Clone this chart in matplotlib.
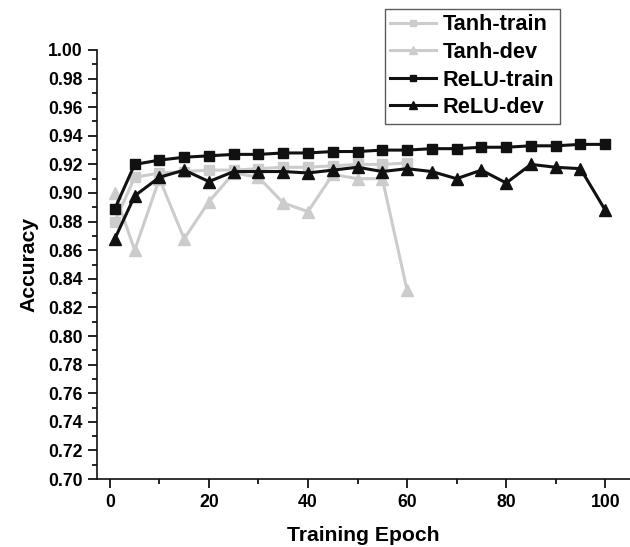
import matplotlib
matplotlib.use("Agg")
import matplotlib.pyplot as plt
from matplotlib.ticker import MultipleLocator

plt.rcParams['font.family'] = ['Liberation Sans', 'DejaVu Sans']
plt.rcParams['font.weight'] = 'bold'

epochs = [1, 5, 10, 15, 20, 25, 30, 35, 40, 45, 50, 55, 60, 65, 70, 75, 80, 85, 90, 95, 100]
tanh_epochs = [1, 5, 10, 15, 20, 25, 30, 35, 40, 45, 50, 55, 60]

tanh_train = [0.880, 0.911, 0.914, 0.915, 0.916, 0.916, 0.917, 0.918, 0.918, 0.919, 0.920, 0.920, 0.921]
tanh_dev = [0.900, 0.860, 0.910, 0.868, 0.894, 0.914, 0.911, 0.893, 0.887, 0.913, 0.910, 0.910, 0.832]
relu_train = [0.889, 0.920, 0.923, 0.925, 0.926, 0.927, 0.927, 0.928, 0.928, 0.929, 0.929, 0.930,
              0.930, 0.931, 0.931, 0.932, 0.932, 0.933, 0.933, 0.934, 0.934]
relu_dev = [0.868, 0.898, 0.911, 0.916, 0.908, 0.915, 0.915, 0.915, 0.914, 0.916, 0.918, 0.915,
            0.917, 0.915, 0.910, 0.916, 0.907, 0.920, 0.918, 0.917, 0.888]

gray = '#cccccc'
black = '#111111'

fig = plt.figure(figsize=(6.3, 5.47), dpi=100)
ax = fig.add_axes([0.154, 0.1243, 0.846, 0.7843])

ax.plot(tanh_epochs, tanh_train, color=gray, lw=2.2, marker='s', ms=6.5, label='Tanh-train')
ax.plot(tanh_epochs, tanh_dev, color=gray, lw=2.2, marker='^', ms=8, label='Tanh-dev')
ax.plot(epochs, relu_train, color=black, lw=2.2, marker='s', ms=6.5, label='ReLU-train')
ax.plot(epochs, relu_dev, color=black, lw=2.2, marker='^', ms=8, label='ReLU-dev')

ax.set_xlim(-2.6, 105)
ax.set_ylim(0.70, 1.00)
ax.xaxis.set_major_locator(MultipleLocator(20))
ax.xaxis.set_minor_locator(MultipleLocator(10))
ax.yaxis.set_major_locator(MultipleLocator(0.02))
ax.yaxis.set_minor_locator(MultipleLocator(0.01))
ax.yaxis.set_major_formatter(matplotlib.ticker.FormatStrFormatter('%.2f'))

for s in ['top', 'right']:
    ax.spines[s].set_visible(False)
for s in ['left', 'bottom']:
    ax.spines[s].set_linewidth(1.2)
    ax.spines[s].set_color('#111111')

ax.tick_params(which='major', direction='out', length=6.5, width=1.2, labelsize=12.7, pad=4)
ax.tick_params(which='minor', direction='out', length=3.5, width=1.2)
for lab in ax.get_xticklabels() + ax.get_yticklabels():
    lab.set_fontweight('bold')

ax.set_xlabel('Training Epoch', fontsize=15.2, fontweight='bold', labelpad=11)
ax.set_ylabel('Accuracy', fontsize=15.2, fontweight='bold', labelpad=7)

leg = fig.legend(loc='upper left', bbox_to_anchor=(0.611, 0.9835), fontsize=15.7,
                 frameon=True, fancybox=False, handlelength=2.1, markerscale=0.75,
                 borderpad=0.25, labelspacing=0.3, handletextpad=0.3, borderaxespad=0)
leg.get_frame().set_edgecolor('#333333')
leg.get_frame().set_linewidth(1.0)
for t in leg.get_texts():
    t.set_fontweight('bold')

fig.savefig('out.png', dpi=100)
